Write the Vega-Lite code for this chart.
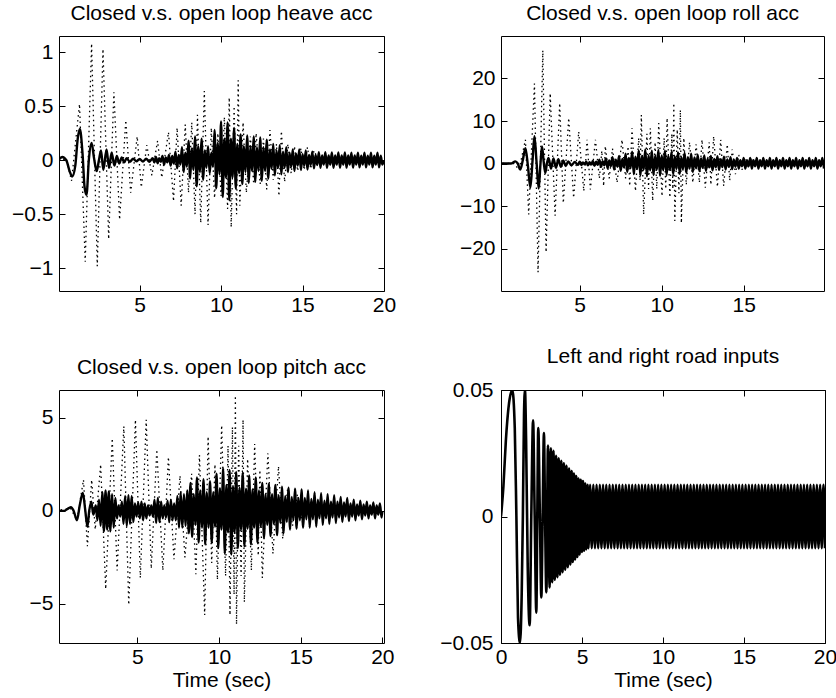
{
"$schema": "https://vega.github.io/schema/vega-lite/v6.json",
"background": "white",
"padding": {"left": 11, "top": 2, "right": 4, "bottom": 2},
"columns": 2,
"spacing": {"row": 29, "column": 42},
"config": {
  "font": "Liberation Sans",
  "view": {"stroke": "black", "strokeWidth": 1},
  "axis": {"grid": false, "domain": false, "ticks": true, "tickColor": "black", "tickWidth": 1, "tickSize": -6, "labelColor": "black", "labelFont": "Liberation Sans", "labelFontSize": 21, "titleFont": "Liberation Sans", "titleFontSize": 21, "titleFontWeight": "normal", "titleColor": "black", "titlePadding": 2, "labelFlush": false, "labelOverlap": false},
  "axisX": {"labelPadding": 9},
  "axisY": {"labelPadding": 12},
  "title": {"font": "Liberation Sans", "fontSize": 21, "fontWeight": "normal", "color": "black", "offset": 12, "anchor": "middle"}
},
"datasets": {
"ho": [{"t":0,"v":0},{"t":0.5,"v":0.01},{"t":0.82,"v":-0.19},{"t":1.31,"v":0.52},{"t":1.66,"v":-0.94},{"t":2.05,"v":1.08},{"t":2.4,"v":-0.98},{"t":2.75,"v":1.03},{"t":3.1,"v":-0.73},{"t":3.42,"v":0.63},{"t":3.77,"v":-0.55},{"t":4.15,"v":0.37},{"t":4.45,"v":-0.3},{"t":4.85,"v":0.22},{"t":5.1,"v":-0.25},{"t":5.44,"v":0.14},{"t":5.75,"v":-0.14},{"t":6.1,"v":0.18},{"t":6.36,"v":-0.16},{"t":6.77,"v":0.26},{"t":7.08,"v":-0.38},{"t":7.3,"v":0.3},{"t":7.55,"v":-0.42},{"t":7.8,"v":0.33},{"t":8.0,"v":-0.3},{"t":8.2,"v":0.35},{"t":8.4,"v":-0.5},{"t":8.55,"v":0.42},{"t":8.75,"v":-0.58},{"t":8.97,"v":0.64},{"t":9.2,"v":-0.6},{"t":9.4,"v":0.3},{"t":9.6,"v":-0.35},{"t":9.8,"v":0.25},{"t":10.0,"v":-0.33},{"t":10.2,"v":0.4},{"t":10.4,"v":-0.45},{"t":10.5,"v":0.58},{"t":10.62,"v":-0.62},{"t":10.8,"v":0.5},{"t":10.95,"v":-0.5},{"t":11.05,"v":0.74},{"t":11.15,"v":-0.42},{"t":11.35,"v":0.35},{"t":11.55,"v":-0.3},{"t":11.8,"v":0.22},{"t":12.0,"v":-0.22},{"t":12.15,"v":0.25},{"t":12.4,"v":-0.22},{"t":12.6,"v":0.2},{"t":12.8,"v":-0.27},{"t":13.0,"v":0.28},{"t":13.2,"v":-0.18},{"t":13.4,"v":0.15},{"t":13.55,"v":-0.33},{"t":13.7,"v":0.27},{"t":13.9,"v":-0.2},{"t":14.1,"v":0.15},{"t":14.3,"v":-0.12},{"t":14.5,"v":0.13},{"t":14.7,"v":-0.1},{"t":14.9,"v":0.11},{"t":15.1,"v":-0.09},{"t":15.3,"v":0.12},{"t":15.5,"v":-0.08},{"t":15.7,"v":0.09},{"t":16.0,"v":0}],
"hc": [{"t":0,"v":0},{"t":0.25,"v":0.03},{"t":0.5,"v":0},{"t":0.7,"v":-0.1},{"t":0.86,"v":-0.15},{"t":1.05,"v":-0.05},{"t":1.2,"v":0.2},{"t":1.33,"v":0.29},{"t":1.5,"v":0.05},{"t":1.62,"v":-0.25},{"t":1.74,"v":-0.32},{"t":1.88,"v":0},{"t":2.05,"v":0.16},{"t":2.2,"v":0.02},{"t":2.36,"v":-0.1},{"t":2.5,"v":0},{"t":2.63,"v":0.09},{"t":2.77,"v":-0.09},{"t":2.97,"v":0.1},{"t":3.12,"v":-0.07},{"t":3.28,"v":0.07},{"t":3.45,"v":-0.05},{"t":3.6,"v":0.04},{"t":3.75,"v":-0.03},{"t":3.9,"v":0.025},{"t":4.05,"v":-0.02},{"t":4.2,"v":0.02},{"t":4.4,"v":-0.015},{"t":4.6,"v":0.015},{"t":4.8,"v":-0.01},{"t":5.0,"v":0.012},{"t":5.2,"v":-0.012},{"t":5.4,"v":0.015},{"t":5.6,"v":-0.015},{"t":5.8,"v":0.02},{"t":5.9,"v":-0.02},
{"t":6.0,"v":0.03},{"t":6.1,"v":-0.028},{"t":6.2,"v":0.02},{"t":6.3,"v":-0.015},{"t":6.4,"v":0.04},{"t":6.5,"v":-0.04},{"t":6.6,"v":0.025},{"t":6.7,"v":-0.02},{"t":6.8,"v":0.05},{"t":6.9,"v":-0.05},{"t":7.0,"v":0.04},{"t":7.1,"v":-0.03},{"t":7.2,"v":0.08},{"t":7.3,"v":-0.075},{"t":7.4,"v":0.05},{"t":7.5,"v":-0.04},{"t":7.6,"v":0.12},{"t":7.7,"v":-0.11},{"t":7.8,"v":0.07},{"t":7.9,"v":-0.06},{"t":8.0,"v":0.18},{"t":8.1,"v":-0.17},{"t":8.2,"v":0.11},{"t":8.3,"v":-0.09},{"t":8.4,"v":0.22},{"t":8.5,"v":-0.24},{"t":8.6,"v":0.13},{"t":8.7,"v":-0.11},{"t":8.8,"v":0.2},{"t":8.9,"v":-0.18},{"t":9.0,"v":0.09},{"t":9.1,"v":-0.07},{"t":9.2,"v":0.13},{"t":9.3,"v":-0.12},{"t":9.4,"v":0.07},{"t":9.5,"v":-0.06},{"t":9.6,"v":0.28},{"t":9.7,"v":-0.26},{"t":9.8,"v":0.16},{"t":9.9,"v":-0.13},{"t":10.0,"v":0.36},{"t":10.1,"v":-0.34},{"t":10.2,"v":0.2},{"t":10.3,"v":-0.16},{"t":10.4,"v":0.35},{"t":10.5,"v":-0.37},{"t":10.6,"v":0.2},{"t":10.7,"v":-0.16},{"t":10.8,"v":0.3},{"t":10.9,"v":-0.26},{"t":11.0,"v":0.15},{"t":11.1,"v":-0.12},{"t":11.2,"v":0.24},{"t":11.3,"v":-0.22},{"t":11.4,"v":0.13},{"t":11.5,"v":-0.11},{"t":11.6,"v":0.23},{"t":11.7,"v":-0.21},{"t":11.8,"v":0.13},{"t":11.9,"v":-0.1},{"t":12.0,"v":0.22},{"t":12.1,"v":-0.2},{"t":12.2,"v":0.12},{"t":12.3,"v":-0.1},{"t":12.4,"v":0.21},{"t":12.5,"v":-0.19},{"t":12.6,"v":0.12},{"t":12.7,"v":-0.1},{"t":12.8,"v":0.19},{"t":12.9,"v":-0.17},{"t":13.0,"v":0.1},{"t":13.1,"v":-0.08},{"t":13.2,"v":0.15},{"t":13.3,"v":-0.14},{"t":13.4,"v":0.09},{"t":13.5,"v":-0.07},{"t":13.6,"v":0.14},{"t":13.7,"v":-0.13},{"t":13.8,"v":0.08},{"t":13.9,"v":-0.07},{"t":14.0,"v":0.12},{"t":14.1,"v":-0.11},{"t":14.2,"v":0.07},{"t":14.3,"v":-0.06},{"t":14.4,"v":0.1},{"t":14.5,"v":-0.1},{"t":14.6,"v":0.06},{"t":14.7,"v":-0.05},{"t":14.8,"v":0.1},{"t":14.9,"v":-0.09},{"t":15.0,"v":0.055},{"t":15.1,"v":-0.05},{"t":15.2,"v":0.09},{"t":15.3,"v":-0.085},{"t":15.4,"v":0.05},{"t":15.5,"v":-0.045},{"t":15.6,"v":0.08},{"t":15.7,"v":-0.075},{"t":15.8,"v":0.05},{"t":15.9,"v":-0.045},{"t":16.0,"v":0.075},{"t":16.1,"v":-0.07},{"t":16.2,"v":0.045},{"t":16.3,"v":-0.04},{"t":16.4,"v":0.075},{"t":16.5,"v":-0.07},{"t":16.6,"v":0.045},{"t":16.7,"v":-0.04},{"t":16.8,"v":0.072},{"t":16.9,"v":-0.07},{"t":17.0,"v":0.045},{"t":17.1,"v":-0.04},{"t":17.2,"v":0.072},{"t":17.3,"v":-0.068},{"t":17.4,"v":0.044},{"t":17.5,"v":-0.04},{"t":17.6,"v":0.072},{"t":17.7,"v":-0.068},{"t":17.8,"v":0.044},{"t":17.9,"v":-0.04},{"t":18.0,"v":0.07},{"t":18.1,"v":-0.068},{"t":18.2,"v":0.044},{"t":18.3,"v":-0.04},{"t":18.4,"v":0.07},{"t":18.5,"v":-0.066},{"t":18.6,"v":0.043},{"t":18.7,"v":-0.04},{"t":18.8,"v":0.07},{"t":18.9,"v":-0.066},{"t":19.0,"v":0.043},{"t":19.1,"v":-0.04},{"t":19.2,"v":0.07},{"t":19.3,"v":-0.066},{"t":19.4,"v":0.043},{"t":19.5,"v":-0.04},{"t":19.6,"v":0.07},{"t":19.7,"v":-0.066},{"t":19.8,"v":0.043},{"t":19.9,"v":-0.04},{"t":20.0,"v":0}],
"ro": [{"t":0,"v":0},{"t":1.0,"v":0},{"t":1.3,"v":-1.5},{"t":1.69,"v":5.6},{"t":1.89,"v":-12},{"t":2.24,"v":18.8},{"t":2.46,"v":-25.6},{"t":2.75,"v":26.6},{"t":2.95,"v":-20.9},{"t":3.2,"v":16.5},{"t":3.5,"v":-12.3},{"t":3.78,"v":14.2},{"t":4.0,"v":-9.3},{"t":4.33,"v":10.7},{"t":4.63,"v":-8.1},{"t":4.94,"v":7.5},{"t":5.25,"v":-6.5},{"t":5.45,"v":5.6},{"t":5.65,"v":-6.1},{"t":5.96,"v":5.6},{"t":6.2,"v":-3.5},{"t":6.35,"v":3.0},{"t":6.46,"v":-5.3},{"t":6.56,"v":4.1},{"t":6.8,"v":-3.5},{"t":7.0,"v":3.5},{"t":7.28,"v":-4.5},{"t":7.58,"v":5.6},{"t":7.8,"v":-3.5},{"t":7.95,"v":4.0},{"t":8.05,"v":-5.3},{"t":8.19,"v":8.3},{"t":8.4,"v":-6.5},{"t":8.6,"v":6.0},{"t":8.68,"v":-4},{"t":8.76,"v":11.4},{"t":8.9,"v":-12},{"t":9.1,"v":7},{"t":9.2,"v":-6},{"t":9.31,"v":8.3},{"t":9.45,"v":-8.8},{"t":9.6,"v":5},{"t":9.7,"v":-6},{"t":9.82,"v":9.5},{"t":10.02,"v":-7.7},{"t":10.15,"v":6},{"t":10.25,"v":-6},{"t":10.33,"v":10.7},{"t":10.5,"v":-8},{"t":10.62,"v":7},{"t":10.68,"v":-6},{"t":10.74,"v":14.2},{"t":10.8,"v":-13.5},{"t":10.95,"v":8},{"t":11.05,"v":-7},{"t":11.14,"v":12.6},{"t":11.2,"v":-14},{"t":11.35,"v":6},{"t":11.5,"v":-5},{"t":11.7,"v":5},{"t":11.9,"v":-4.5},{"t":12.1,"v":4.5},{"t":12.3,"v":-4.5},{"t":12.46,"v":5.6},{"t":12.66,"v":-5.7},{"t":12.9,"v":5},{"t":13.0,"v":-5},{"t":13.17,"v":6.4},{"t":13.4,"v":-5.5},{"t":13.6,"v":5.6},{"t":13.78,"v":-5.3},{"t":14.0,"v":4.5},{"t":14.15,"v":-4},{"t":14.3,"v":3.3},{"t":14.5,"v":-2.5},{"t":14.7,"v":2.0},{"t":14.9,"v":-1.5},{"t":15.1,"v":1.2},{"t":15.3,"v":-1.0},{"t":15.5,"v":0.8},{"t":15.7,"v":-0.6},{"t":16.0,"v":0}],
"rc": [{"t":0,"v":0},{"t":0.8,"v":0},{"t":1.08,"v":0.5},{"t":1.22,"v":0},{"t":1.38,"v":-1.4},{"t":1.53,"v":0.8},{"t":1.69,"v":3.6},{"t":1.84,"v":-0.5},{"t":1.99,"v":-5.7},{"t":2.12,"v":0.5},{"t":2.24,"v":6.4},{"t":2.37,"v":0.2},{"t":2.5,"v":-5.9},{"t":2.6,"v":-0.5},{"t":2.7,"v":4.0},{"t":2.8,"v":0.5},{"t":2.9,"v":-2.2},{"t":3.0,"v":0},{"t":3.1,"v":1.3},{"t":3.25,"v":-1.2},{"t":3.4,"v":1.2},{"t":3.55,"v":-1.0},{"t":3.7,"v":1.0},{"t":3.85,"v":-0.8},{"t":4.0,"v":0.7},{"t":4.15,"v":-0.6},{"t":4.3,"v":0.5},{"t":4.5,"v":-0.4},{"t":4.7,"v":0.35},{"t":4.9,"v":-0.3},
{"t":5.0,"v":0.4},{"t":5.1,"v":-0.36},{"t":5.2,"v":0.25},{"t":5.3,"v":-0.2},{"t":5.4,"v":0.45},{"t":5.5,"v":-0.45},{"t":5.6,"v":0.3},{"t":5.7,"v":-0.25},{"t":5.8,"v":0.6},{"t":5.9,"v":-0.55},{"t":6.0,"v":0.4},{"t":6.1,"v":-0.3},{"t":6.2,"v":0.9},{"t":6.3,"v":-0.8},{"t":6.4,"v":0.55},{"t":6.5,"v":-0.45},{"t":6.6,"v":1.2},{"t":6.7,"v":-1.1},{"t":6.8,"v":0.7},{"t":6.9,"v":-0.6},{"t":7.0,"v":1.5},{"t":7.1,"v":-1.4},{"t":7.2,"v":0.9},{"t":7.3,"v":-0.75},{"t":7.4,"v":1.8},{"t":7.5,"v":-1.7},{"t":7.6,"v":1.1},{"t":7.7,"v":-0.9},{"t":7.8,"v":2.3},{"t":7.9,"v":-2.0},{"t":8.0,"v":1.3},{"t":8.1,"v":-1.1},{"t":8.2,"v":2.8},{"t":8.3,"v":-2.5},{"t":8.4,"v":1.6},{"t":8.5,"v":-1.3},{"t":8.6,"v":3.1},{"t":8.7,"v":-2.8},{"t":8.8,"v":1.8},{"t":8.9,"v":-1.5},{"t":9.0,"v":3.3},{"t":9.1,"v":-3.0},{"t":9.2,"v":1.9},{"t":9.3,"v":-1.6},{"t":9.4,"v":3.0},{"t":9.5,"v":-2.7},{"t":9.6,"v":1.8},{"t":9.7,"v":-1.5},{"t":9.8,"v":3.2},{"t":9.9,"v":-2.9},{"t":10.0,"v":1.9},{"t":10.1,"v":-1.6},{"t":10.2,"v":3.0},{"t":10.3,"v":-2.7},{"t":10.4,"v":1.8},{"t":10.5,"v":-1.5},{"t":10.6,"v":2.7},{"t":10.7,"v":-2.5},{"t":10.8,"v":1.6},{"t":10.9,"v":-1.3},{"t":11.0,"v":2.6},{"t":11.1,"v":-2.4},{"t":11.2,"v":1.5},{"t":11.3,"v":-1.3},{"t":11.4,"v":2.5},{"t":11.5,"v":-2.2},{"t":11.6,"v":1.5},{"t":11.7,"v":-1.2},{"t":11.8,"v":2.3},{"t":11.9,"v":-2.0},{"t":12.0,"v":1.4},{"t":12.1,"v":-1.1},{"t":12.2,"v":2.0},{"t":12.3,"v":-1.8},{"t":12.4,"v":1.2},{"t":12.5,"v":-1.0},{"t":12.6,"v":1.9},{"t":12.7,"v":-1.7},{"t":12.8,"v":1.1},{"t":12.9,"v":-0.9},{"t":13.0,"v":1.8},{"t":13.1,"v":-1.6},{"t":13.2,"v":1.1},{"t":13.3,"v":-0.9},{"t":13.4,"v":1.7},{"t":13.5,"v":-1.5},{"t":13.6,"v":1.0},{"t":13.7,"v":-0.85},{"t":13.8,"v":1.6},{"t":13.9,"v":-1.4},{"t":14.0,"v":0.95},{"t":14.1,"v":-0.8},{"t":14.2,"v":1.5},{"t":14.3,"v":-1.3},{"t":14.4,"v":0.9},{"t":14.5,"v":-0.75},{"t":14.6,"v":1.3},{"t":14.7,"v":-1.2},{"t":14.8,"v":0.8},{"t":14.9,"v":-0.65},{"t":15.0,"v":1.3},{"t":15.1,"v":-1.2},{"t":15.2,"v":0.8},{"t":15.3,"v":-0.65},{"t":15.4,"v":1.3},{"t":15.5,"v":-1.2},{"t":15.6,"v":0.8},{"t":15.7,"v":-0.65},{"t":15.8,"v":1.3},{"t":15.9,"v":-1.2},{"t":16.0,"v":0.8},{"t":16.1,"v":-0.65},{"t":16.2,"v":1.3},{"t":16.3,"v":-1.2},{"t":16.4,"v":0.8},{"t":16.5,"v":-0.65},{"t":16.6,"v":1.3},{"t":16.7,"v":-1.2},{"t":16.8,"v":0.8},{"t":16.9,"v":-0.65},{"t":17.0,"v":1.3},{"t":17.1,"v":-1.2},{"t":17.2,"v":0.8},{"t":17.3,"v":-0.65},{"t":17.4,"v":1.3},{"t":17.5,"v":-1.2},{"t":17.6,"v":0.8},{"t":17.7,"v":-0.65},{"t":17.8,"v":1.3},{"t":17.9,"v":-1.2},{"t":18.0,"v":0.8},{"t":18.1,"v":-0.65},{"t":18.2,"v":1.3},{"t":18.3,"v":-1.2},{"t":18.4,"v":0.8},{"t":18.5,"v":-0.65},{"t":18.6,"v":1.3},{"t":18.7,"v":-1.2},{"t":18.8,"v":0.8},{"t":18.9,"v":-0.65},{"t":19.0,"v":1.3},{"t":19.1,"v":-1.2},{"t":19.2,"v":0.8},{"t":19.3,"v":-0.65},{"t":19.4,"v":1.3},{"t":19.5,"v":-1.2},{"t":19.6,"v":0.8},{"t":19.7,"v":-0.65},{"t":19.8,"v":1.3},{"t":19.9,"v":-1.2}],
"po": [{"t":0,"v":0},{"t":0.9,"v":0.15},{"t":1.3,"v":-0.5},{"t":1.7,"v":1.67},{"t":1.94,"v":-1.9},{"t":2.2,"v":1.67},{"t":2.42,"v":-1.0},{"t":2.75,"v":2.5},{"t":3.06,"v":-4.2},{"t":3.46,"v":3.9},{"t":3.76,"v":-3.2},{"t":4.17,"v":4.55},{"t":4.47,"v":-5.05},{"t":4.88,"v":4.9},{"t":5.18,"v":-3.6},{"t":5.54,"v":4.9},{"t":5.85,"v":-3.1},{"t":6.19,"v":3.3},{"t":6.56,"v":-3.2},{"t":6.9,"v":2.9},{"t":7.24,"v":-2.6},{"t":7.61,"v":1.9},{"t":7.91,"v":-2.5},{"t":8.32,"v":2.0},{"t":8.58,"v":-3.4},{"t":8.8,"v":3.0},{"t":9.12,"v":-5.6},{"t":9.33,"v":4.0},{"t":9.55,"v":-2.8},{"t":9.75,"v":2.5},{"t":9.9,"v":-3.7},{"t":10.16,"v":4.6},{"t":10.4,"v":-3.5},{"t":10.55,"v":3.5},{"t":10.67,"v":-5.6},{"t":10.82,"v":4.5},{"t":10.92,"v":-4.5},{"t":11.0,"v":6.2},{"t":11.07,"v":-6.1},{"t":11.2,"v":3.5},{"t":11.35,"v":-3.5},{"t":11.47,"v":4.9},{"t":11.55,"v":-4.9},{"t":11.75,"v":2.8},{"t":11.98,"v":-3.2},{"t":12.18,"v":3.6},{"t":12.4,"v":-2.4},{"t":12.5,"v":2.2},{"t":12.65,"v":-3.6},{"t":12.99,"v":3.1},{"t":13.3,"v":-2.3},{"t":13.64,"v":2.4},{"t":13.9,"v":-1.5},{"t":14.2,"v":1.2},{"t":14.5,"v":-0.8},{"t":14.8,"v":0.9},{"t":15.1,"v":-0.6},{"t":15.5,"v":0.5},{"t":16.0,"v":0}],
"pc": [{"t":0,"v":0},{"t":0.5,"v":0},{"t":0.8,"v":0.15},{"t":0.93,"v":0.2},{"t":1.1,"v":0},{"t":1.3,"v":-0.5},{"t":1.47,"v":0.3},{"t":1.66,"v":0.97},{"t":1.8,"v":0.1},{"t":1.94,"v":-0.85},{"t":2.05,"v":0},{"t":2.18,"v":0.5},{"t":2.3,"v":-0.2},{"t":2.45,"v":0.3},{"t":2.55,"v":-0.5},{"t":2.65,"v":0.6},{"t":2.75,"v":-0.8},{"t":2.85,"v":1.0},{"t":2.95,"v":-1.1},{"t":3.05,"v":1.1},{"t":3.15,"v":-1.0},{"t":3.25,"v":1.05},{"t":3.35,"v":-1.1},{"t":3.45,"v":0.9},{"t":3.55,"v":-0.9},{"t":3.65,"v":0.7},{"t":3.75,"v":-0.4},{"t":3.85,"v":0.3},{"t":3.95,"v":-0.3},{"t":4.05,"v":0.5},{"t":4.15,"v":-0.7},{"t":4.25,"v":0.8},{"t":4.35,"v":-0.8},{"t":4.45,"v":0.85},{"t":4.55,"v":-0.7},{"t":4.65,"v":0.8},{"t":4.75,"v":-0.6},{"t":4.85,"v":0.4},{"t":4.95,"v":-0.3},{"t":5.05,"v":0.45},{"t":5.15,"v":-0.4},{"t":5.25,"v":0.5},{"t":5.35,"v":-0.5},{"t":5.45,"v":0.4},{"t":5.55,"v":-0.4},{"t":5.65,"v":0.3},{"t":5.75,"v":-0.25},{"t":5.85,"v":0.3},{"t":5.95,"v":-0.3},{"t":6.05,"v":0.6},{"t":6.15,"v":-0.65},{"t":6.25,"v":0.7},{"t":6.35,"v":-0.6},{"t":6.45,"v":0.5},{"t":6.55,"v":-0.4},{"t":6.65,"v":0.3},{"t":6.75,"v":-0.35},{"t":6.85,"v":0.55},{"t":6.95,"v":-0.6},{"t":7.05,"v":0.6},{"t":7.15,"v":-0.5},{"t":7.25,"v":0.4},{"t":7.35,"v":-0.5},{"t":7.45,"v":0.8},{"t":7.55,"v":-0.9},{"t":7.65,"v":1.0},{"t":7.75,"v":-0.9},{"t":7.85,"v":0.9},{"t":7.95,"v":-0.8},{"t":8.05,"v":1.1},{"t":8.15,"v":-1.2},
{"t":8.25,"v":1.5},{"t":8.35,"v":-1.4},{"t":8.45,"v":0.9},{"t":8.55,"v":-0.75},{"t":8.65,"v":1.8},{"t":8.75,"v":-1.7},{"t":8.85,"v":1.1},{"t":8.95,"v":-0.9},{"t":9.05,"v":1.7},{"t":9.15,"v":-1.8},{"t":9.25,"v":1.0},{"t":9.35,"v":-0.9},{"t":9.45,"v":1.6},{"t":9.55,"v":-1.7},{"t":9.65,"v":1.0},{"t":9.75,"v":-0.85},{"t":9.85,"v":2.0},{"t":9.95,"v":-2.0},{"t":10.05,"v":1.2},{"t":10.15,"v":-1.0},{"t":10.25,"v":2.3},{"t":10.35,"v":-2.3},{"t":10.45,"v":1.4},{"t":10.55,"v":-1.15},{"t":10.65,"v":2.2},{"t":10.75,"v":-2.35},{"t":10.85,"v":1.3},{"t":10.95,"v":-1.15},{"t":11.05,"v":2.1},{"t":11.15,"v":-2.0},{"t":11.25,"v":1.25},{"t":11.35,"v":-1.0},{"t":11.45,"v":2.05},{"t":11.55,"v":-1.9},{"t":11.65,"v":1.2},{"t":11.75,"v":-0.95},{"t":11.85,"v":1.9},{"t":11.95,"v":-1.8},{"t":12.05,"v":1.15},{"t":12.15,"v":-0.9},{"t":12.25,"v":1.8},{"t":12.35,"v":-1.7},{"t":12.45,"v":1.1},{"t":12.55,"v":-0.85},{"t":12.65,"v":1.5},{"t":12.75,"v":-1.45},{"t":12.85,"v":0.9},{"t":12.95,"v":-0.75},{"t":13.05,"v":1.45},{"t":13.15,"v":-1.35},{"t":13.25,"v":0.9},{"t":13.35,"v":-0.7},{"t":13.45,"v":1.4},{"t":13.55,"v":-1.3},{"t":13.65,"v":0.85},{"t":13.75,"v":-0.65},{"t":13.85,"v":1.3},{"t":13.95,"v":-1.2},{"t":14.05,"v":0.8},{"t":14.15,"v":-0.6},{"t":14.25,"v":1.25},{"t":14.35,"v":-1.0},{"t":14.45,"v":0.75},{"t":14.55,"v":-0.5},{"t":14.65,"v":1.2},{"t":14.75,"v":-0.95},{"t":14.85,"v":0.7},{"t":14.95,"v":-0.5},{"t":15.05,"v":1.15},{"t":15.15,"v":-0.9},{"t":15.25,"v":0.7},{"t":15.35,"v":-0.45},{"t":15.45,"v":1.1},{"t":15.55,"v":-0.9},{"t":15.65,"v":0.65},{"t":15.75,"v":-0.45},{"t":15.85,"v":1.0},{"t":15.95,"v":-0.85},{"t":16.05,"v":0.6},{"t":16.15,"v":-0.4},{"t":16.25,"v":0.95},{"t":16.35,"v":-0.75},{"t":16.45,"v":0.55},{"t":16.55,"v":-0.4},{"t":16.65,"v":0.9},{"t":16.75,"v":-0.7},{"t":16.85,"v":0.5},{"t":16.95,"v":-0.35},{"t":17.05,"v":0.85},{"t":17.15,"v":-0.65},{"t":17.25,"v":0.5},{"t":17.35,"v":-0.35},{"t":17.45,"v":0.75},{"t":17.55,"v":-0.6},{"t":17.65,"v":0.45},{"t":17.75,"v":-0.3},{"t":17.85,"v":0.7},{"t":17.95,"v":-0.55},{"t":18.05,"v":0.4},{"t":18.15,"v":-0.3},{"t":18.25,"v":0.6},{"t":18.35,"v":-0.5},{"t":18.45,"v":0.35},{"t":18.55,"v":-0.25},{"t":18.65,"v":0.55},{"t":18.75,"v":-0.45},{"t":18.85,"v":0.35},{"t":18.95,"v":-0.25},{"t":19.05,"v":0.5},{"t":19.15,"v":-0.4},{"t":19.25,"v":0.3},{"t":19.35,"v":-0.2},{"t":19.45,"v":0.45},{"t":19.55,"v":-0.4},{"t":19.65,"v":0.3},{"t":19.75,"v":-0.2},{"t":19.85,"v":0.4},{"t":19.95,"v":-0.35},{"t":20.0,"v":0}],
"rd": [{"t":0,"v":0},{"t":0.15,"v":0.012},{"t":0.3,"v":0.03},{"t":0.5,"v":0.045},{"t":0.7,"v":0.05},{"t":0.85,"v":0.035},{"t":0.95,"v":0},{"t":1.05,"v":-0.04},{"t":1.17,"v":-0.05},{"t":1.28,"v":-0.03},{"t":1.35,"v":0},{"t":1.42,"v":0.04},{"t":1.48,"v":0.05},{"t":1.55,"v":0.03},{"t":1.65,"v":-0.02},{"t":1.77,"v":-0.043},{"t":1.87,"v":0},{"t":1.98,"v":0.038},{"t":2.08,"v":0},{"t":2.18,"v":-0.038},{"t":2.24,"v":0},{"t":2.3,"v":0.035},{"t":2.4,"v":0},{"t":2.49,"v":-0.032},{"t":2.57,"v":0},{"t":2.65,"v":0.033},{"t":2.72,"v":0},{"t":2.8,"v":-0.03},{"t":2.9,"v":0.028},{"t":3.0,"v":-0.028},{"t":3.08,"v":0.027},{"t":3.16,"v":-0.026},{"t":3.24,"v":0.026},{"t":3.32,"v":-0.025},{"t":3.4,"v":0.024},{"t":3.48,"v":-0.024},{"t":3.56,"v":0.023},{"t":3.64,"v":-0.023},{"t":3.72,"v":0.022},{"t":3.8,"v":-0.022},{"t":3.88,"v":0.021},{"t":3.96,"v":-0.021},{"t":4.04,"v":0.02},{"t":4.12,"v":-0.02},{"t":4.2,"v":0.019},{"t":4.28,"v":-0.019},{"t":4.36,"v":0.018},{"t":4.43,"v":-0.018},{"t":4.5,"v":0.017},{"t":4.57,"v":-0.017},{"t":4.64,"v":0.016},{"t":4.71,"v":-0.016},{"t":4.78,"v":0.015},{"t":4.85,"v":-0.015},{"t":4.92,"v":0.0145},{"t":4.99,"v":-0.014},{"t":5.06,"v":0.014},{"t":5.13,"v":-0.0135},{"t":5.2,"v":0.013},{"t":5.27,"v":-0.013},{"t":5.34,"v":0.0125},{"t":5.4,"v":-0.0125},
{"t":5.5,"v":0.0125},{"t":5.6,"v":-0.0125},{"t":5.7,"v":0.0125},{"t":5.8,"v":-0.0125},{"t":5.9,"v":0.0125},{"t":6.0,"v":-0.0125},{"t":6.1,"v":0.0125},{"t":6.2,"v":-0.0125},{"t":6.3,"v":0.0125},{"t":6.4,"v":-0.0125},{"t":6.5,"v":0.0125},{"t":6.6,"v":-0.0125},{"t":6.7,"v":0.0125},{"t":6.8,"v":-0.0125},{"t":6.9,"v":0.0125},{"t":7.0,"v":-0.0125},{"t":7.1,"v":0.0125},{"t":7.2,"v":-0.0125},{"t":7.3,"v":0.0125},{"t":7.4,"v":-0.0125},{"t":7.5,"v":0.0125},{"t":7.6,"v":-0.0125},{"t":7.7,"v":0.0125},{"t":7.8,"v":-0.0125},{"t":7.9,"v":0.0125},{"t":8.0,"v":-0.0125},{"t":8.1,"v":0.0125},{"t":8.2,"v":-0.0125},{"t":8.3,"v":0.0125},{"t":8.4,"v":-0.0125},{"t":8.5,"v":0.0125},{"t":8.6,"v":-0.0125},{"t":8.7,"v":0.0125},{"t":8.8,"v":-0.0125},{"t":8.9,"v":0.0125},{"t":9.0,"v":-0.0125},{"t":9.1,"v":0.0125},{"t":9.2,"v":-0.0125},{"t":9.3,"v":0.0125},{"t":9.4,"v":-0.0125},{"t":9.5,"v":0.0125},{"t":9.6,"v":-0.0125},{"t":9.7,"v":0.0125},{"t":9.8,"v":-0.0125},{"t":9.9,"v":0.0125},{"t":10.0,"v":-0.0125},{"t":10.1,"v":0.0125},{"t":10.2,"v":-0.0125},{"t":10.3,"v":0.0125},{"t":10.4,"v":-0.0125},{"t":10.5,"v":0.0125},{"t":10.6,"v":-0.0125},{"t":10.7,"v":0.0125},{"t":10.8,"v":-0.0125},{"t":10.9,"v":0.0125},{"t":11.0,"v":-0.0125},{"t":11.1,"v":0.0125},{"t":11.2,"v":-0.0125},{"t":11.3,"v":0.0125},{"t":11.4,"v":-0.0125},{"t":11.5,"v":0.0125},{"t":11.6,"v":-0.0125},{"t":11.7,"v":0.0125},{"t":11.8,"v":-0.0125},{"t":11.9,"v":0.0125},{"t":12.0,"v":-0.0125},{"t":12.1,"v":0.0125},{"t":12.2,"v":-0.0125},{"t":12.3,"v":0.0125},{"t":12.4,"v":-0.0125},{"t":12.5,"v":0.0125},{"t":12.6,"v":-0.0125},{"t":12.7,"v":0.0125},{"t":12.8,"v":-0.0125},{"t":12.9,"v":0.0125},{"t":13.0,"v":-0.0125},{"t":13.1,"v":0.0125},{"t":13.2,"v":-0.0125},{"t":13.3,"v":0.0125},{"t":13.4,"v":-0.0125},{"t":13.5,"v":0.0125},{"t":13.6,"v":-0.0125},{"t":13.7,"v":0.0125},{"t":13.8,"v":-0.0125},{"t":13.9,"v":0.0125},{"t":14.0,"v":-0.0125},{"t":14.1,"v":0.0125},{"t":14.2,"v":-0.0125},{"t":14.3,"v":0.0125},{"t":14.4,"v":-0.0125},{"t":14.5,"v":0.0125},{"t":14.6,"v":-0.0125},{"t":14.7,"v":0.0125},{"t":14.8,"v":-0.0125},{"t":14.9,"v":0.0125},{"t":15.0,"v":-0.0125},{"t":15.1,"v":0.0125},{"t":15.2,"v":-0.0125},{"t":15.3,"v":0.0125},{"t":15.4,"v":-0.0125},{"t":15.5,"v":0.0125},{"t":15.6,"v":-0.0125},{"t":15.7,"v":0.0125},{"t":15.8,"v":-0.0125},{"t":15.9,"v":0.0125},{"t":16.0,"v":-0.0125},{"t":16.1,"v":0.0125},{"t":16.2,"v":-0.0125},{"t":16.3,"v":0.0125},{"t":16.4,"v":-0.0125},{"t":16.5,"v":0.0125},{"t":16.6,"v":-0.0125},{"t":16.7,"v":0.0125},{"t":16.8,"v":-0.0125},{"t":16.9,"v":0.0125},{"t":17.0,"v":-0.0125},{"t":17.1,"v":0.0125},{"t":17.2,"v":-0.0125},{"t":17.3,"v":0.0125},{"t":17.4,"v":-0.0125},{"t":17.5,"v":0.0125},{"t":17.6,"v":-0.0125},{"t":17.7,"v":0.0125},{"t":17.8,"v":-0.0125},{"t":17.9,"v":0.0125},{"t":18.0,"v":-0.0125},{"t":18.1,"v":0.0125},{"t":18.2,"v":-0.0125},{"t":18.3,"v":0.0125},{"t":18.4,"v":-0.0125},{"t":18.5,"v":0.0125},{"t":18.6,"v":-0.0125},{"t":18.7,"v":0.0125},{"t":18.8,"v":-0.0125},{"t":18.9,"v":0.0125},{"t":19.0,"v":-0.0125},{"t":19.1,"v":0.0125},{"t":19.2,"v":-0.0125},{"t":19.3,"v":0.0125},{"t":19.4,"v":-0.0125},{"t":19.5,"v":0.0125},{"t":19.6,"v":-0.0125},{"t":19.7,"v":0.0125},{"t":19.8,"v":-0.0125},{"t":19.9,"v":0.0125},{"t":20.0,"v":-0.0125}]
},
"concat": [
{
 "width": 325, "height": 255,
 "title": {"text": "Closed v.s. open loop heave acc"},
 "layer": [
  {"data": {"name": "ho"}, "mark": {"type": "line", "color": "black", "strokeWidth": 1.3, "strokeDash": [1.5, 3.5], "clip": true},
   "encoding": {"x": {"field": "t", "type": "quantitative", "scale": {"domain": [0.05, 20], "nice": false, "zero": false}, "axis": {"values": [5, 10, 15, 20], "title": null, "format": "~r"}},
                "y": {"field": "v", "type": "quantitative", "scale": {"domain": [-1.21, 1.15], "nice": false, "zero": false}, "axis": {"values": [-1, -0.5, 0, 0.5, 1], "title": null, "format": "~r"}}}},
  {"data": {"name": "hc"}, "mark": {"type": "line", "color": "black", "strokeWidth": 2.4, "interpolate": "monotone", "clip": true},
   "encoding": {"x": {"field": "t", "type": "quantitative", "axis": {"orient": "top", "labels": false, "values": [5, 10, 15, 20], "title": null}},
                "y": {"field": "v", "type": "quantitative", "axis": {"orient": "right", "labels": false, "values": [-1, -0.5, 0, 0.5, 1], "title": null}}}}
 ],
 "resolve": {"axis": {"x": "independent", "y": "independent"}}
},
{
 "width": 323, "height": 255,
 "title": {"text": "Closed v.s. open loop roll acc"},
 "layer": [
  {"data": {"name": "ro"}, "mark": {"type": "line", "color": "black", "strokeWidth": 1.3, "strokeDash": [1.5, 3.5], "clip": true},
   "encoding": {"x": {"field": "t", "type": "quantitative", "scale": {"domain": [0.2, 19.9], "nice": false, "zero": false}, "axis": {"values": [5, 10, 15], "title": null, "format": "~r"}},
                "y": {"field": "v", "type": "quantitative", "scale": {"domain": [-30, 30], "nice": false, "zero": false}, "axis": {"values": [-20, -10, 0, 10, 20], "title": null, "format": "~r"}}}},
  {"data": {"name": "rc"}, "mark": {"type": "line", "color": "black", "strokeWidth": 2.4, "interpolate": "monotone", "clip": true},
   "encoding": {"x": {"field": "t", "type": "quantitative", "axis": {"orient": "top", "labels": false, "values": [5, 10, 15], "title": null}},
                "y": {"field": "v", "type": "quantitative", "axis": {"orient": "right", "labels": false, "values": [-20, -10, 0, 10, 20], "title": null}}}}
 ],
 "resolve": {"axis": {"x": "independent", "y": "independent"}}
},
{
 "width": 325, "height": 253,
 "title": {"text": "Closed v.s. open loop pitch acc"},
 "layer": [
  {"data": {"name": "po"}, "mark": {"type": "line", "color": "black", "strokeWidth": 1.3, "strokeDash": [1.5, 3.5], "clip": true},
   "encoding": {"x": {"field": "t", "type": "quantitative", "scale": {"domain": [0.2, 20.1], "nice": false, "zero": false}, "axis": {"values": [5, 10, 15, 20], "title": "Time (sec)", "format": "~r"}},
                "y": {"field": "v", "type": "quantitative", "scale": {"domain": [-7.1, 6.5], "nice": false, "zero": false}, "axis": {"values": [-5, 0, 5], "title": null, "format": "~r"}}}},
  {"data": {"name": "pc"}, "mark": {"type": "line", "color": "black", "strokeWidth": 2.4, "interpolate": "monotone", "clip": true},
   "encoding": {"x": {"field": "t", "type": "quantitative", "axis": {"orient": "top", "labels": false, "values": [5, 10, 15, 20], "title": null}},
                "y": {"field": "v", "type": "quantitative", "axis": {"orient": "right", "labels": false, "values": [-5, 0, 5], "title": null}}}}
 ],
 "resolve": {"axis": {"x": "independent", "y": "independent"}}
},
{
 "width": 324, "height": 253,
 "title": {"text": "Left and right road inputs"},
 "layer": [
  {"data": {"name": "rd"}, "mark": {"type": "line", "color": "black", "strokeWidth": 2.6, "interpolate": "monotone", "clip": true},
   "encoding": {"x": {"field": "t", "type": "quantitative", "scale": {"domain": [0, 20], "nice": false, "zero": false}, "axis": {"values": [0, 5, 10, 15, 20], "title": "Time (sec)", "format": "~r"}},
                "y": {"field": "v", "type": "quantitative", "scale": {"domain": [-0.05, 0.05], "nice": false, "zero": false}, "axis": {"values": [-0.05, 0, 0.05], "title": null, "format": "~r", "labelPadding": 14}}}},
  {"data": {"name": "rd"}, "mark": {"type": "line", "color": "black", "strokeWidth": 0, "opacity": 0},
   "encoding": {"x": {"field": "t", "type": "quantitative", "axis": {"orient": "top", "labels": false, "values": [0, 5, 10, 15, 20], "title": null}},
                "y": {"field": "v", "type": "quantitative", "axis": {"orient": "right", "labels": false, "values": [-0.05, 0, 0.05], "title": null}}}}
 ],
 "resolve": {"axis": {"x": "independent", "y": "independent"}}
}
]
}
